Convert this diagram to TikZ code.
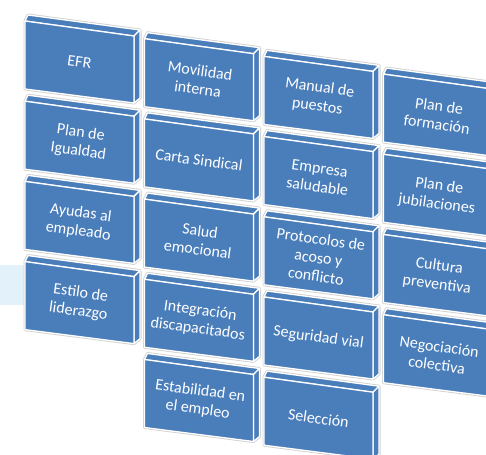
\documentclass[tikz,border=0pt]{standalone}
\usepackage{fontspec}
\setmainfont{Carlito}
\usetikzlibrary{calc}
\definecolor{boxblue}{HTML}{4A7EBB}
\definecolor{bandblue}{HTML}{E3F2FA}

\begin{document}
\begin{tikzpicture}[x=1pt, y=-1pt,
    face/.style={fill=boxblue, draw=white, line width=1.3pt, line join=round},
    halo/.style={draw=black!18, line width=3pt, line join=round},
    lbl/.style={text=white, align=center, font=\fontsize{16}{18.5}\selectfont, rotate=-7.8, inner sep=0pt}
]
\useasboundingbox (0,0) rectangle (486,454);
\clip (0,0) rectangle (486,454);
\fill[bandblue] (0,265) rectangle (40,305);

% columns from right to left, rows from bottom to top
\foreach \c/\r/\n/\t in {
    3/3/negociacion/{Negociación\\colectiva},
    3/2/cultura/{Cultura\\preventiva},
    3/1/jubilaciones/{Plan de\\jubilaciones},
    3/0/formacion/{Plan de\\formación},
    2/4/seleccion/{Selección},
    2/3/vial/{Seguridad vial},
    2/2/protocolos/{Protocolos de\\acoso y\\conflicto},
    2/1/saludable/{Empresa\\saludable},
    2/0/manual/{Manual de\\puestos},
    1/4/estabilidad/{Estabilidad en\\el empleo},
    1/3/integracion/{Integración\\discapacitados},
    1/2/emocional/{Salud\\emocional},
    1/1/sindical/{Carta Sindical},
    1/0/movilidad/{Movilidad\\interna},
    0/3/liderazgo/{Estilo de\\liderazgo},
    0/2/ayudas/{Ayudas al\\empleado},
    0/1/igualdad/{Plan de\\Igualdad},
    0/0/efr/{EFR}} {
  \pgfmathsetmacro\xa{25+119.5*\c}
  \pgfmathsetmacro\ya{21+17.7*\c+80.2*\r}
  \coordinate (\n-tl) at (\xa,\ya);
  \coordinate (\n-tr) at (\xa+109,\ya+15);
  \coordinate (\n-br) at (\xa+109,\ya+82);
  \coordinate (\n-bl) at (\xa,\ya+68);
  \draw[halo] (\n-bl) -- (\n-tl) -- ($(\n-tl)+(3,-6)$) -- ($(\n-tr)+(6,-6)$)
    -- ($(\n-br)+(6,-5)$) -- (\n-br) -- cycle;
  \draw[face] (\n-tl) -- (\n-tr) -- ++(6,-6) -- ($(\n-tl)+(3,-6)$) -- cycle;
  \draw[face] (\n-tr) -- (\n-br) -- ++(6,-5) -- ($(\n-tr)+(6,-6)$) -- cycle;
  \draw[face] (\n-tl) -- (\n-tr) -- (\n-br) -- (\n-bl) -- cycle;
  \node[lbl] (\n) at ($(\n-tl)!0.5!(\n-br)$) {\t};
}
\end{tikzpicture}
\end{document}
